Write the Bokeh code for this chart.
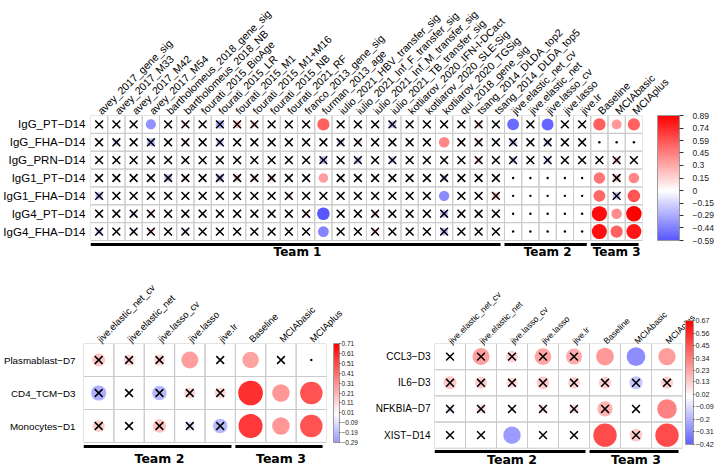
import math
from bokeh.plotting import figure
from bokeh.models import (FactorRange, Range1d, FixedTicker, LinearColorMapper, ColorBar,
                          ColumnDataSource, Label, AllLabels)
from bokeh.layouts import column, row
from bokeh.embed import file_html
from bokeh.resources import INLINE
from bokeh.transform import transform
from bokeh.core.properties import value

# ---------------- data ----------------
a_columns = ["avey_2017_gene_sig", "avey_2017_M33", "avey_2017_M42", "avey_2017_M54",
             "bartholomeus_2018_gene_sig", "bartholomeus_2018_NB", "fourati_2015_BioAge",
             "fourati_2015_LR", "fourati_2015_M1", "fourati_2015_M1+M16", "fourati_2015_NB",
             "fourati_2021_RF", "franco_2013_gene_sig", "furman_2013_age",
             "iulio_2021_HBV_transfer_sig", "iulio_2021_Inf_F_transfer_sig",
             "iulio_2021_Inf_M_transfer_sig", "iulio_2021_TB_transfer_sig",
             "kotliarov_2020_IFN-I-DCact", "kotliarov_2020_SLE-Sig", "kotliarov_2020_TGSig",
             "qui_2018_gene_sig", "tsang_2014_DLDA_top2", "tsang_2014_DLDA_top5",
             "jive.elastic_net_cv", "jive.elastic_net", "jive.lasso_cv", "jive.lasso", "jive.lr",
             "Baseline", "MCIAbasic", "MCIAplus"]
a_rows = ["IgG_PT\u2212D14", "IgG_FHA\u2212D14", "IgG_PRN\u2212D14", "IgG1_PT\u2212D14",
          "IgG1_FHA\u2212D14", "IgG4_PT\u2212D14", "IgG4_FHA\u2212D14"]
a_team_names = ["Team 1", "Team 2", "Team 3"]
a_team_sizes = [24, 5, 3]
# values (None = not available)
a_values = [
    [0.03, -0.02, 0.04, -0.38, 0.02, 0.12, 0.03, -0.26, 0.20, 0.15, 0.02, -0.03, 0.04, 0.55, 0.02, -0.04,
     0.03, -0.20, 0.03, 0.02, -0.03, 0.04, 0.16, 0.03, -0.52, 0.04, -0.53, 0.03, 0.02, 0.56, 0.36, 0.55],
    [0.02, -0.15, 0.03, -0.24, -0.08, 0.12, 0.02, -0.18, 0.03, -0.02, 0.07, -0.05, 0.02, 0.04, -0.17, 0.13,
     0.03, -0.10, 0.09, 0.02, 0.42, 0.10, 0.15, 0.03, -0.18, 0.08, -0.17, 0.03, 0.09, None, None, None],
    [0.02, -0.03, 0.02, -0.04, 0.03, 0.10, 0.02, -0.03, 0.04, 0.02, -0.02, 0.03, 0.02, -0.22, 0.03, -0.18,
     0.02, -0.15, 0.03, -0.02, 0.04, 0.02, 0.16, 0.03, -0.16, 0.02, -0.15, 0.03, 0.02, 0.04, 0.18, 0.03],
    [0.02, 0.03, -0.02, -0.05, -0.20, 0.12, 0.02, -0.20, 0.17, 0.14, 0.15, 0.03, 0.02, 0.34, -0.10, 0.02,
     0.03, 0.02, -0.03, 0.02, -0.16, 0.03, 0.02, 0.03, None, None, None, None, None, 0.48, 0.20, 0.42],
    [-0.20, 0.02, 0.03, 0.02, -0.03, 0.02, 0.03, 0.02, 0.03, -0.02, 0.02, 0.13, 0.02, 0.03, 0.02, 0.03,
     0.02, -0.03, 0.02, 0.03, -0.40, 0.02, 0.03, 0.20, None, None, None, None, None, 0.53, -0.20, 0.59],
    [0.03, 0.02, -0.14, 0.12, 0.02, 0.03, 0.02, -0.03, 0.02, 0.03, 0.07, 0.02, 0.12, -0.59, 0.02, 0.03,
     0.15, 0.02, -0.05, 0.02, -0.22, 0.10, -0.10, 0.03, None, None, None, None, None, 0.85, 0.40, 0.89],
    [-0.15, 0.02, -0.13, 0.14, 0.02, -0.12, 0.03, 0.02, 0.03, -0.02, 0.07, 0.02, 0.03, -0.43, 0.02, 0.03,
     0.15, 0.02, 0.03, 0.06, -0.22, 0.02, 0.03, 0.02, None, None, None, None, None, 0.84, 0.55, 0.82],
]
# x = not significant (crossed), o = significant, n = not available
a_flags = [
    "xxxoxxxxxxxxxoxxxxxxxxxxoxoxxooo",
    "xxxxxxxxxxxxxxxxxxxxoxxxxxxxxnnn",
    "xxxxxxxxxxxxxxxxxxxxxxxxxxxxxxxx",
    "xxxxxxxxxxxxxoxxxxxxxxxxnnnnnoxo",
    "xxxxxxxxxxxxxxxxxxxxoxxxnnnnnoxo",
    "xxxxxxxxxxxxxoxxxxxxxxxxnnnnnooo",
    "xxxxxxxxxxxxxoxxxxxxxxxxnnnnnooo",
]
a_cbar_ticks = [0.89, 0.74, 0.59, 0.45, 0.3, 0.15, 0, -0.15, -0.29, -0.44, -0.59]

bc_columns = ["jive.elastic_net_cv", "jive.elastic_net", "jive.lasso_cv", "jive.lasso", "jive.lr",
              "Baseline", "MCIAbasic", "MCIAplus"]
bc_team_names = ["Team 2", "Team 3"]
bc_team_sizes = [5, 3]

b_rows = ["Plasmablast\u2212D7", "CD4_TCM\u2212D3", "Monocytes\u2212D1"]
b_values = [
    [0.16, 0.12, 0.12, 0.27, 0.02, 0.26, 0.02, None],
    [-0.22, -0.02, -0.20, 0.12, 0.12, 0.58, 0.29, 0.48],
    [0.14, 0.02, 0.17, -0.08, -0.20, 0.55, 0.29, 0.48],
]
b_flags = ["xxxoxoxn", "xxxxxooo", "xxxxxooo"]
b_cbar_ticks = [0.71, 0.61, 0.51, 0.41, 0.31, 0.21, 0.11, 0.01, -0.09, -0.19, -0.29]

c_rows = ["CCL3\u2212D3", "IL6\u2212D3", "NFKBIA\u2212D7", "XIST\u2212D14"]
c_values = [
    [0.02, 0.25, 0.12, 0.24, 0.22, 0.27, -0.30, 0.26],
    [0.15, 0.13, 0.10, 0.14, 0.12, 0.13, -0.15, 0.13],
    [-0.05, 0.08, 0.02, 0.07, 0.08, 0.20, 0.01, 0.33],
    [0.02, -0.01, -0.26, 0.01, 0.02, 0.47, 0.14, 0.47],
]
c_flags = ["xxxxxooo", "xxxxxxxx", "xxxxxxxo", "xxoxxoxo"]
c_cbar_ticks = [0.67, 0.56, 0.45, 0.34, 0.23, 0.13, 0.02, -0.09, -0.2, -0.31, -0.42]

# ---------------- styling ----------------
FONT = "Liberation Sans"
BOLD_FONT = "DejaVu Sans"


def make_palette(lo, hi, vmax, n=256):
    """blue-white-red palette covering [lo, hi], white at zero, saturated at +/- vmax"""
    pal = []
    for k in range(n):
        v = lo + (k + 0.5) * (hi - lo) / n
        t = max(-1.0, min(1.0, v / vmax))
        if t < 0:
            c = int(round(255 * (1 + t)))
            pal.append("#%02x%02x%02x" % (c, c, 255))
        else:
            c = int(round(255 * (1 - t)))
            pal.append("#%02x%02x%02x" % (255, c, c))
    return pal


def fmt_tick(t):
    return ("%g" % t).replace("-", "\u2212")


def build_panel(cols, rows, vals, flags, team_names, team_sizes, cbar_ticks, letter, L):
    ncol, nrow = len(cols), len(rows)
    for f in flags:
        assert len(f) == ncol, f
    grid_w, grid_h = L["grid_w"], L["grid_h"]
    team_px = L["h"] - L["top"] - grid_h
    cell_w = grid_w / ncol
    row_px = grid_h / nrow
    lo, hi = min(cbar_ticks), max(cbar_ticks)
    vmax = max(abs(lo), abs(hi))

    p = figure(width=L["w"], height=L["h"], x_range=FactorRange(*cols),
               y_range=Range1d(-team_px / row_px, nrow), x_axis_location="above",
               output_backend="svg", toolbar_location=None,
               min_border_left=L["left"], min_border_right=L["w"] - L["left"] - grid_w,
               min_border_top=L["top"], min_border_bottom=0)
    p.outline_line_color = None
    p.xgrid.visible = False
    p.ygrid.visible = False

    centers = [nrow - i - 0.5 for i in range(nrow)]
    p.yaxis.ticker = FixedTicker(ticks=centers)
    p.yaxis.major_label_overrides = {c: r for c, r in zip(centers, rows)}
    p.xaxis.major_label_orientation = math.pi / 4
    for ax, fs, so in ((p.xaxis[0], L["col_fs"], L["col_so"]), (p.yaxis[0], L["row_fs"], L["row_so"])):
        ax.axis_line_color = None
        ax.major_tick_line_color = None
        ax.minor_tick_line_color = None
        ax.major_tick_out = 0
        ax.major_tick_in = 0
        ax.major_label_standoff = so
        ax.major_label_text_font = FONT
        ax.major_label_text_font_size = fs
        ax.major_label_text_color = "black"

    gx, gy = [], []
    cx, cy, cv, cr = [], [], [], []
    xx, xy = [], []
    nx, ny = [], []
    for i, rname in enumerate(rows):
        for j, cname in enumerate(cols):
            gx.append(cname)
            gy.append(centers[i])
            v = vals[i][j]
            f = flags[i][j]
            if f == "n" or v is None:
                nx.append(cname)
                ny.append(centers[i])
                continue
            cx.append(cname)
            cy.append(centers[i])
            cv.append(v)
            cr.append(0.45 * math.sqrt(abs(v) / vmax))
            if f == "x":
                xx.append(cname)
                xy.append(centers[i])

    mapper = LinearColorMapper(palette=make_palette(lo, hi, vmax), low=lo, high=hi)

    p.rect(x=gx, y=gy, width=1, height=1, fill_color=None, line_color="#cbcbcb", line_width=1)
    src = ColumnDataSource(dict(x=cx, y=cy, v=cv, r=cr))
    p.circle(x="x", y="y", radius="r", source=src, fill_color=transform("v", mapper), line_color=None)
    p.scatter(x=xx, y=xy, marker="x", size=L["x_size"], line_color="black", line_width=1.5)
    if nx:
        p.scatter(x=nx, y=ny, marker="circle", size=2.4, fill_color="black", line_color=None)

    # team underlines and labels
    starts, ends, mids = [], [], []
    s = 0
    for n in team_sizes:
        starts.append(s)
        ends.append(s + n - 4.0 / cell_w)
        mids.append(s + n / 2)
        s += n
    y_line = -L["ul_px"] / row_px
    p.segment(x0=starts, y0=[y_line] * len(starts), x1=ends, y1=[y_line] * len(starts),
              line_color="black", line_width=3, line_cap="butt")
    p.text(x=mids, y=[-L["txt_px"] / row_px] * len(mids), text=team_names,
           text_font=value(BOLD_FONT), text_font_style="bold", text_font_size=L["team_fs"],
           text_align="center", text_baseline="middle", text_color="black")

    # colour bar
    cb = ColorBar(color_mapper=mapper, ticker=FixedTicker(ticks=cbar_ticks),
                  major_label_overrides={t: fmt_tick(t) for t in cbar_ticks},
                  major_label_policy=AllLabels(),
                  width=L["cb_w"], height=grid_h, location=(grid_w + L["cb_gap"], team_px),
                  padding=0, margin=0, background_fill_alpha=0, border_line_color=None,
                  bar_line_color="#999999", bar_line_width=1,
                  major_tick_out=L["cb_tick"], major_tick_in=0, major_tick_line_color="#333333",
                  minor_tick_line_color=None,
                  label_standoff=L["cb_so"], major_label_text_font=FONT,
                  major_label_text_font_size=L["cb_fs"], major_label_text_color="#222222")
    p.add_layout(cb)

    p.add_layout(Label(x=0, y=nrow, x_units="data", y_units="data", x_offset=L["let_dx"],
                       y_offset=L["let_dy"], text=letter, text_font=FONT,
                       text_font_size=L["let_fs"], text_align="left", text_baseline="top",
                       text_color="black"))
    return p


LA = dict(w=720, h=258, left=85, top=115, grid_w=557, grid_h=125, col_fs="10.6px", col_so=3,
          row_fs="11.5px", row_so=5, x_size=11, ul_px=4, txt_px=11.5, team_fs="12px",
          cb_w=22, cb_gap=10, cb_tick=4, cb_so=9, cb_fs="8.5px", let_dx=-73, let_dy=95, let_fs="19px")
LB = dict(w=360, h=210, left=78, top=85, grid_w=248, grid_h=99, col_fs="9.5px", col_so=3,
          row_fs="9.8px", row_so=8, x_size=11, ul_px=4, txt_px=15.5, team_fs="12.5px",
          cb_w=6, cb_gap=2, cb_tick=1, cb_so=1, cb_fs="6.5px", let_dx=-72, let_dy=61, let_fs="18px")
LC = dict(w=360, h=210, left=74, top=62, grid_w=248, grid_h=124, col_fs="8.6px", col_so=1,
          row_fs="10px", row_so=4, x_size=11, ul_px=4, txt_px=13.5, team_fs="12.5px",
          cb_w=8, cb_gap=3, cb_tick=1, cb_so=1, cb_fs="7.2px", let_dx=-72, let_dy=38, let_fs="18px")

pA = build_panel(a_columns, a_rows, a_values, a_flags, a_team_names, a_team_sizes, a_cbar_ticks, "A", LA)
pB = build_panel(bc_columns, b_rows, b_values, b_flags, bc_team_names, bc_team_sizes, b_cbar_ticks, "B", LB)
pC = build_panel(bc_columns, c_rows, c_values, c_flags, bc_team_names, bc_team_sizes, c_cbar_ticks, "C", LC)

layout = column(pA, row(pB, pC, spacing=0), spacing=0)
open("out.html", "w").write(file_html(layout, INLINE))
